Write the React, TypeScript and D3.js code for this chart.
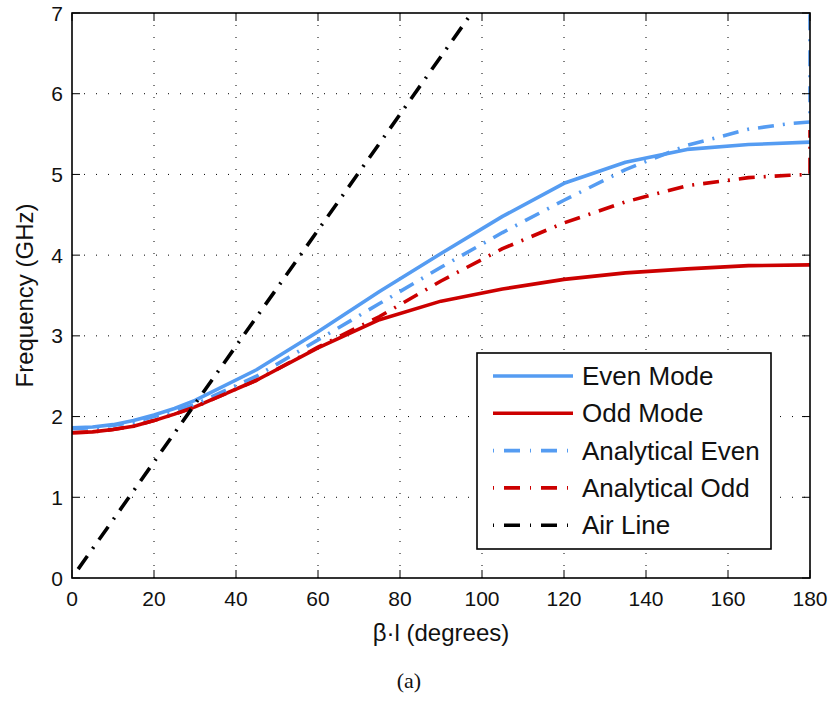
import React from 'react';
import * as d3 from 'd3';

// beta*l in degrees, frequency in GHz
const betaL = [0, 5, 10, 15, 20, 25, 30, 45, 60, 75, 90, 105, 120, 135, 150, 165, 180];
const evenMode = [1.86, 1.87, 1.9, 1.95, 2.02, 2.1, 2.2, 2.58, 3.05, 3.55, 4.02, 4.48, 4.89, 5.15, 5.31, 5.37, 5.4];
const oddMode = [1.8, 1.81, 1.84, 1.88, 1.95, 2.03, 2.12, 2.45, 2.85, 3.2, 3.43, 3.58, 3.7, 3.78, 3.83, 3.87, 3.88];

const anBetaL = [0, 5, 10, 15, 20, 25, 30, 45, 60, 75, 90, 105, 120, 135, 150, 165, 175, 180, 180];
const analyticalEven = [1.85, 1.86, 1.89, 1.93, 2.0, 2.07, 2.15, 2.5, 2.95, 3.4, 3.85, 4.28, 4.68, 5.06, 5.36, 5.56, 5.63, 5.65, 7.5];
const analyticalOdd = [1.8, 1.81, 1.84, 1.88, 1.95, 2.03, 2.12, 2.45, 2.86, 3.24, 3.68, 4.08, 4.4, 4.66, 4.86, 4.96, 4.99, 5.0, 5.55];

const airBetaL = [1.5, 97.5];
const airLine = [0.11, 7.0];

const xTicks = [0, 20, 40, 60, 80, 100, 120, 140, 160, 180];
const yTicks = [0, 1, 2, 3, 4, 5, 6, 7];

const BLUE = '#559cf2';
const RED = '#cc0000';
const DASHDOT = '16,9,2,9';

const series = [
  { name: 'Even Mode', xs: betaL, ys: evenMode, color: BLUE, dash: null },
  { name: 'Odd Mode', xs: betaL, ys: oddMode, color: RED, dash: null },
  { name: 'Analytical Even', xs: anBetaL, ys: analyticalEven, color: BLUE, dash: DASHDOT },
  { name: 'Analytical Odd', xs: anBetaL, ys: analyticalOdd, color: RED, dash: DASHDOT },
  { name: 'Air Line', xs: airBetaL, ys: airLine, color: '#000', dash: DASHDOT },
];

const W = 832;
const H = 702;
const m = { left: 72, right: 810, top: 13, bottom: 578 };
const FONT = '"Liberation Sans", Arial, Helvetica, sans-serif';

const App = () => {
  const x = d3.scaleLinear().domain([0, 180]).range([m.left, m.right]);
  const y = d3.scaleLinear().domain([0, 7]).range([m.bottom, m.top]);
  const line = d3
    .line<[number, number]>()
    .x((d) => x(d[0]))
    .y((d) => y(d[1]));

  const tickLen = 8;
  const lg = { x: 477, y: 353, w: 294, h: 196, row: 37.3 };

  return (
    <svg
      width={W}
      height={H}
      style={{ position: 'fixed', left: 0, top: 0, display: 'block', background: 'white' }}
    >
      <defs>
        <clipPath id="plot">
          <rect x={m.left} y={m.top} width={m.right - m.left} height={m.bottom - m.top} />
        </clipPath>
      </defs>

      {/* grid */}
      <g stroke="#000" strokeWidth={1} strokeDasharray="1,11">
        {xTicks.slice(1, -1).map((t) => (
          <line key={'gx' + t} x1={x(t)} x2={x(t)} y1={m.bottom} y2={m.top} />
        ))}
        {yTicks.slice(1, -1).map((t) => (
          <line key={'gy' + t} x1={m.left} x2={m.right} y1={y(t)} y2={y(t)} />
        ))}
      </g>

      {/* curves */}
      <g clipPath="url(#plot)" fill="none" strokeWidth={3.6} strokeLinejoin="round">
        {series.map((s) => {
          const pts = s.xs.map((v, i) => [v, s.ys[i]] as [number, number]);
          return (
            <path key={s.name} d={line(pts) as string} stroke={s.color} strokeDasharray={s.dash ?? undefined} />
          );
        })}
      </g>

      {/* ticks */}
      <g stroke="#000" strokeWidth={1}>
        {xTicks.map((t) => (
          <g key={'tx' + t}>
            <line x1={x(t)} x2={x(t)} y1={m.bottom} y2={m.bottom - tickLen} />
            <line x1={x(t)} x2={x(t)} y1={m.top} y2={m.top + tickLen} />
          </g>
        ))}
        {yTicks.map((t) => (
          <g key={'ty' + t}>
            <line x1={m.left} x2={m.left + tickLen} y1={y(t)} y2={y(t)} />
            <line x1={m.right} x2={m.right - tickLen} y1={y(t)} y2={y(t)} />
          </g>
        ))}
      </g>

      {/* axes box */}
      <rect
        x={m.left}
        y={m.top}
        width={m.right - m.left}
        height={m.bottom - m.top}
        fill="none"
        stroke="#000"
        strokeWidth={1.6}
      />

      {/* tick labels */}
      <g fontFamily={FONT} fontSize={21} fill="#111">
        {xTicks.map((t) => (
          <text key={'lx' + t} x={x(t)} y={606} textAnchor="middle">
            {t}
          </text>
        ))}
        {yTicks.map((t) => (
          <text key={'ly' + t} x={63} y={y(t) + 7.5} textAnchor="end">
            {t}
          </text>
        ))}
      </g>

      {/* axis titles */}
      <text x={441} y={641} textAnchor="middle" fontFamily={FONT} fontSize={24} fill="#111">
        β·l (degrees)
      </text>
      <text
        transform={`translate(33,${(m.top + m.bottom) / 2}) rotate(-90)`}
        textAnchor="middle"
        fontFamily={FONT}
        fontSize={24}
        fill="#111"
      >
        Frequency (GHz)
      </text>

      {/* legend */}
      <g>
        <rect x={lg.x} y={lg.y} width={lg.w} height={lg.h} fill="white" stroke="#000" strokeWidth={1.6} />
        {series.map((s, i) => {
          const cy = lg.y + 23 + i * lg.row;
          return (
            <g key={'lg' + s.name}>
              <line
                x1={lg.x + 16}
                x2={lg.x + 96}
                y1={cy}
                y2={cy}
                stroke={s.color}
                strokeWidth={3.6}
                strokeDasharray={s.dash ? '1,10,16,10' : undefined}
              />
              <text x={lg.x + 105} y={cy + 9} fontFamily={FONT} fontSize={26} fill="#111">
                {s.name}
              </text>
            </g>
          );
        })}
      </g>

      {/* caption */}
      <text
        x={409}
        y={688}
        textAnchor="middle"
        fontFamily='"Liberation Serif", "DejaVu Serif", serif'
        fontSize={22}
        fill="#111"
      >
        (a)
      </text>
    </svg>
  );
};

export default App;
